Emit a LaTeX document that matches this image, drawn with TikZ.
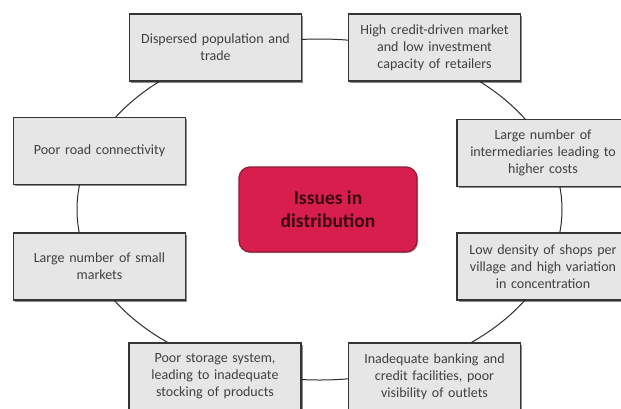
\documentclass[tikz,border=0pt]{standalone}
\usepackage{fontspec}
\setmainfont{Carlito}
\usetikzlibrary{shadows,shapes.geometric}
\definecolor{boxfill}{HTML}{E6E6E6}
\definecolor{boxdraw}{HTML}{353535}
\definecolor{txt}{HTML}{404040}
\definecolor{ringcol}{HTML}{2E2E2E}
\definecolor{redfill}{HTML}{D71E4C}
\definecolor{reddraw}{HTML}{8E1B35}
\definecolor{redtxt}{HTML}{3A0812}
\begin{document}
\begin{tikzpicture}[x=1pt,y=-1pt,
  issue/.style={draw=boxdraw, line width=1.4pt, fill=boxfill,
    minimum width=172pt, minimum height=67pt, text width=166pt, align=center,
    inner sep=0pt, text=txt, font=\fontsize{14}{16.8}\selectfont,
    drop shadow={shadow xshift=1.6pt, shadow yshift=-1.6pt, fill=black, opacity=0.45}},
  hub/.style={draw=reddraw, line width=1.2pt, fill=redfill, rounded corners=11pt,
    minimum width=178pt, minimum height=85pt, align=center, inner sep=0pt,
    text=redtxt, font=\bfseries\fontsize{19.5}{23.4}\selectfont,
    drop shadow={shadow xshift=1.2pt, shadow yshift=-1.2pt, fill=black, opacity=0.3}},
  ringstyle/.style={draw=ringcol, line width=1pt, ellipse, inner sep=0pt,
    minimum width=485pt, minimum height=341pt}]
\useasboundingbox (0,0) rectangle (621,408);
\clip (0,0) rectangle (621,408);
\fill[white] (0,0) rectangle (621,408);
\node[ringstyle] (ring) at (319.5,209.5) {};
\node[issue] (a) at (215.5,47.5) {Dispersed population and\\trade};
\node[issue] (b) at (434.5,47.5) {High credit-driven market\\and low investment\\capacity of retailers};
\node[issue] (c) at (99.5,151) {Poor road connectivity};
\node[issue] (d) at (543,153) {Large number of\\intermediaries leading to\\higher costs};
\node[issue] (e) at (99.5,266.5) {Large number of small\\markets};
\node[issue] (f) at (543,266.5) {Low density of shops per\\village and high variation\\in concentration};
\node[issue] (g) at (215,376.5) {Poor storage system,\\leading to inadequate\\stocking of products};
\node[issue] (h) at (434.5,376.5) {Inadequate banking and\\credit facilities, poor\\visibility of outlets};
\node[hub] (hubnode) at (328,209.5) {Issues in\\distribution};
\end{tikzpicture}
\end{document}
